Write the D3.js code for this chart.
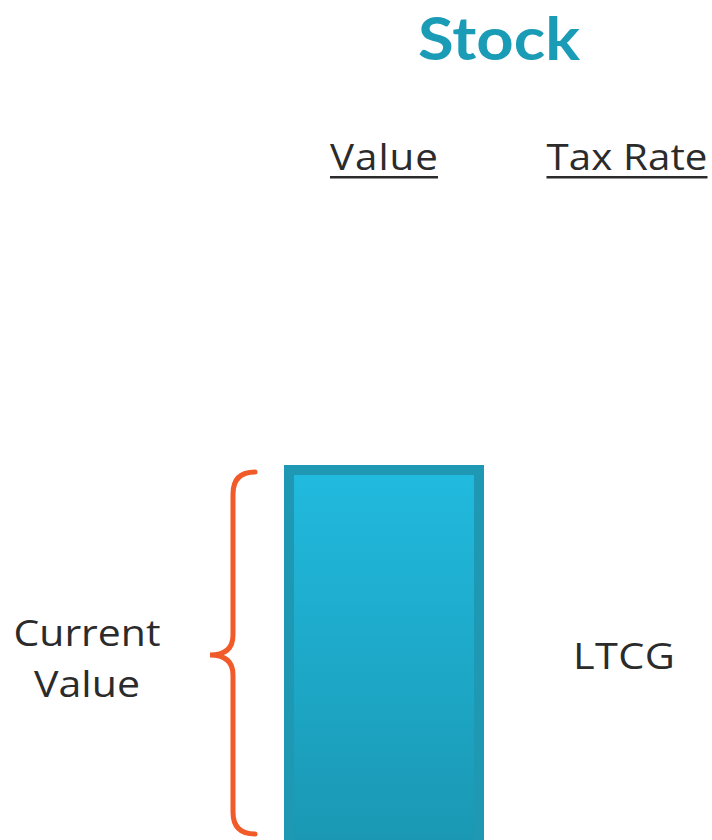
<!DOCTYPE html>
<html>
<head>
<meta charset="utf-8">
<script src="https://cdn.jsdelivr.net/npm/d3@7"></script>
<style>
  html, body { margin: 0; padding: 0; background: #fff; overflow: hidden; }
  text { font-family: "Open Sans", Lato, sans-serif; }
  text.title { font-family: Lato, "Open Sans", sans-serif; }
</style>
</head>
<body>
<script>
// chart data
const columns = ["Value", "Tax Rate"];
const barCategories = ["Current Value"];
const barValues = [100];
const taxLabels = ["LTCG"];
const title = "Stock";

const width = 712;
const height = 840;

const svg = d3.select("body").append("svg")
  .attr("width", width)
  .attr("height", height);

const x = d3.scalePoint().domain(columns).range([384, 627]);
const y = d3.scaleLinear().domain([0, 100]).range([852, 470]);
const barWidth = 190;

// widths of the texts in the original
const headerWidths = {"Value": 108, "Tax Rate": 161};
const labelWidths = {"Current": 147, "Value": 106};

// the original face is wider than anything installed: stretch a little, space the rest
function fitText(el, cx, cy, target) {
  const t = d3.select(el).attr("x", 0).attr("y", 0);
  const natural = el.getComputedTextLength();
  const s = Math.min(Math.max(target / natural, 1), 1.12);
  t.attr("transform", `translate(${cx},${cy}) scale(${s},1)`)
    .attr("textLength", target / s)
    .attr("lengthAdjust", "spacing");
}

// gradient for the bar
const defs = svg.append("defs");
const grad = defs.append("linearGradient")
  .attr("id", "barGrad")
  .attr("x1", 0).attr("y1", 0).attr("x2", 0).attr("y2", 1);
grad.append("stop").attr("offset", "0%").attr("stop-color", "#21badf");
grad.append("stop").attr("offset", "100%").attr("stop-color", "#1a97b2");

const shadow = defs.append("linearGradient")
  .attr("id", "shadowGrad")
  .attr("x1", 0).attr("y1", 0).attr("x2", 1).attr("y2", 0);
shadow.append("stop").attr("offset", "0%").attr("stop-color", "#bbb").attr("stop-opacity", 0);
shadow.append("stop").attr("offset", "100%").attr("stop-color", "#999").attr("stop-opacity", 0.8);

defs.append("filter").attr("id", "blur")
  .append("feGaussianBlur").attr("stdDeviation", 1.2);

// title
svg.append("text")
  .attr("class", "title")
  .attr("text-anchor", "middle")
  .attr("font-size", 60)
  .attr("font-weight", "bold")
  .attr("fill", "#1b9cb6")
  .text(title)
  .each(function() { fitText(this, 499, 60, 162); });

// column headers
const headers = svg.append("g").selectAll("g")
  .data(columns)
  .enter()
  .append("g");

headers.append("text")
  .attr("text-anchor", "middle")
  .attr("font-size", 36)
  .attr("fill", "#2b2b2b")
  .text((d) => d)
  .each(function(d) { fitText(this, x(d), 170, headerWidths[d]); });

headers.append("rect")
  .attr("x", (d) => x(d) - headerWidths[d] / 2)
  .attr("y", 176)
  .attr("width", (d) => headerWidths[d])
  .attr("height", 2.5)
  .attr("fill", "#2b2b2b");

// bar
svg.append("g").selectAll("rect")
  .data(barValues)
  .enter()
  .append("rect")
  .attr("x", x("Value") - barWidth / 2)
  .attr("y", (d) => y(d))
  .attr("width", barWidth)
  .attr("height", (d) => y(0) - y(d))
  .attr("fill", "url(#barGrad)")
  .attr("stroke", "#1e98b3")
  .attr("stroke-width", 10);

// brace
const braceTop = y(barValues[0]) + 2;
const braceBot = 834;
const braceMid = (braceTop + braceBot) / 2 + 2;
const bx = 233;
const tipX = 255;
const pointX = 210;

svg.append("line")
  .attr("x1", 186).attr("x2", pointX + 2)
  .attr("y1", braceMid + 2).attr("y2", braceMid + 2)
  .attr("stroke", "url(#shadowGrad)")
  .attr("stroke-width", 4)
  .attr("filter", "url(#blur)");

const brace = d3.path();
brace.moveTo(tipX, braceTop);
brace.quadraticCurveTo(bx, braceTop, bx, braceTop + 22);
brace.lineTo(bx, braceMid - 20);
brace.quadraticCurveTo(bx, braceMid, pointX, braceMid);
brace.quadraticCurveTo(bx, braceMid, bx, braceMid + 20);
brace.lineTo(bx, braceBot - 22);
brace.quadraticCurveTo(bx, braceBot, tipX, braceBot);

svg.append("path")
  .attr("d", brace.toString())
  .attr("fill", "none")
  .attr("stroke", "#f15a29")
  .attr("stroke-width", 5)
  .attr("stroke-linecap", "round");

// left label
svg.append("g").selectAll("text")
  .data(barCategories[0].split(" "))
  .enter()
  .append("text")
  .attr("text-anchor", "middle")
  .attr("font-size", 37)
  .attr("fill", "#2b2b2b")
  .text((d) => d)
  .each(function(d, i) { fitText(this, 87, 646 + i * 51, labelWidths[d]); });

// tax label
svg.append("text")
  .attr("text-anchor", "middle")
  .attr("font-size", 37)
  .attr("fill", "#2b2b2b")
  .text(taxLabels[0])
  .each(function() { fitText(this, x("Tax Rate") - 3, 669, 102); });
</script>
</body>
</html>
